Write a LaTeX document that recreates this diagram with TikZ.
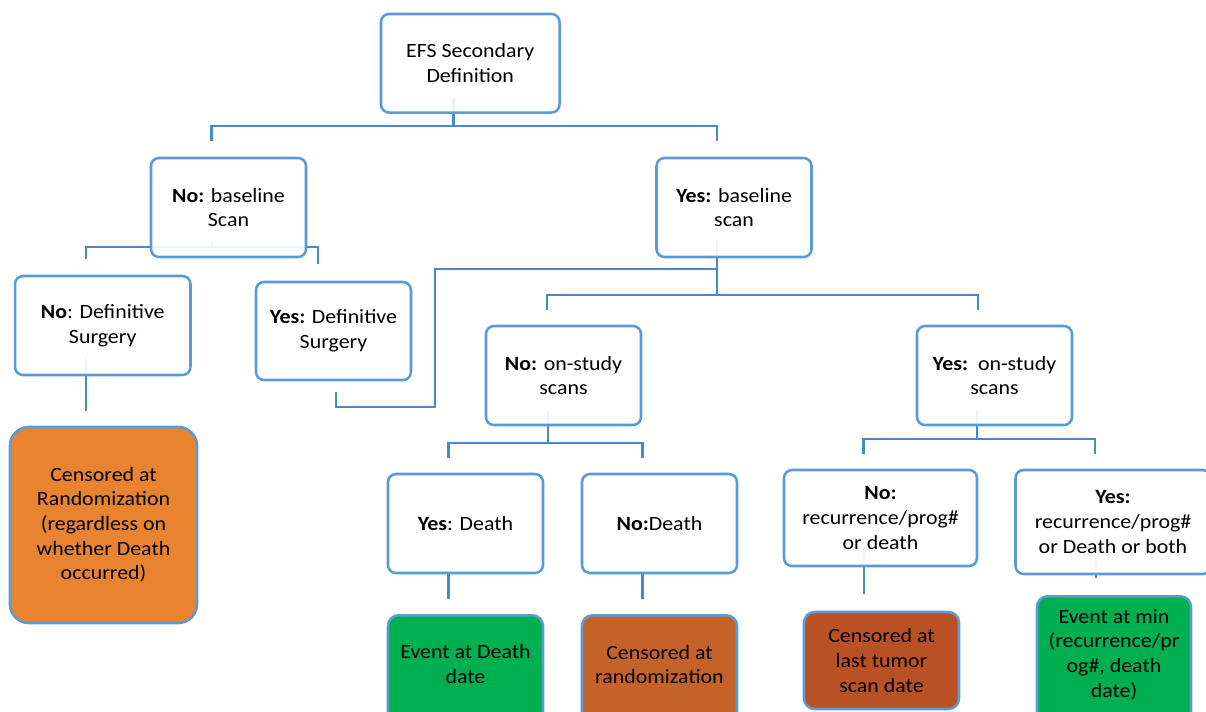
\documentclass[tikz,border=0pt]{standalone}
\usepackage{fontspec}
\setmainfont[FakeStretch=1.08]{Carlito}
\definecolor{bord}{HTML}{5B9BD5}
\definecolor{conn}{HTML}{4A89C8}
\definecolor{orng}{HTML}{E8832F}
\definecolor{brn}{HTML}{C5622A}
\definecolor{dbrn}{HTML}{BA5125}
\definecolor{grn}{HTML}{00AF4F}
\tikzset{
  box/.style={draw=bord, line width=1.9pt, rounded corners=6pt, fill=white, fill opacity=0.9, text opacity=1,
    align=center, inner sep=0pt, font=\fontsize{15.2}{18.5}\selectfont},
  cbox/.style={box, fill opacity=1, rounded corners=8pt},
  txt/.style={align=center, inner sep=0pt, font=\fontsize{15.2}{18.5}\selectfont},
  wn/.style={minimum width=116.25pt, minimum height=74.25pt},
  link/.style={draw=conn, line width=1.7pt},
}
\begin{document}
\begin{tikzpicture}[x=0.75pt,y=-0.75pt]
\useasboundingbox (0,0) rectangle (1206,711);
% coordinates for connectors (drawn first, under boxes)
\coordinate (r1) at (453.5,98);
\coordinate (r2) at (453.5,126);
\coordinate (rl) at (211.5,141);
\coordinate (rr) at (717,141);
\draw[link] (r1) -- (r2);
\draw[link] (rl) |- (r2) -| (rr);
% No baseline bracket
\coordinate (nb1) at (212,243);
\coordinate (nb2) at (212,247);
\coordinate (nbl) at (86,259);
\coordinate (nbr) at (318,264);
\draw[link] (nb1) -- (nb2);
\draw[link] (nbl) |- (nb2) -| (nbr);
% No surgery down
\coordinate (ns1) at (86,358);
\coordinate (ns2) at (86,411);
\draw[link] (ns1) -- (ns2);
% Yes baseline
\coordinate (yb1) at (717,240);
\coordinate (yb2) at (717,295);
\coordinate (yb3) at (717,269);
\coordinate (ybl) at (547,310);
\coordinate (ybr) at (978,310);
\coordinate (ys1) at (336,392);
\coordinate (ys2) at (435,407);
\draw[link] (yb1) -- (yb2);
\draw[link] (ybl) |- (yb2) -| (ybr);
\draw[link] (ys1) |- (ys2) |- (yb3);
% No on-study
\coordinate (no1) at (548,410);
\coordinate (no2) at (548,443);
\coordinate (nol) at (448.5,458);
\coordinate (nor) at (642.5,458);
\draw[link] (no1) -- (no2);
\draw[link] (nol) |- (no2) -| (nor);
% Yes on-study
\coordinate (yo1) at (977,410);
\coordinate (yo2) at (977,439);
\coordinate (yol) at (863.5,454);
\coordinate (yor) at (1095,454);
\draw[link] (yo1) -- (yo2);
\draw[link] (yol) |- (yo2) -| (yor);
% leaves
\coordinate (d1) at (448.5,573);
\coordinate (d2) at (448.5,599);
\coordinate (e1) at (642.5,573);
\coordinate (e2) at (642.5,599);
\coordinate (f1) at (864,550);
\coordinate (f2) at (864,594);
\coordinate (g1) at (1096,558);
\coordinate (g2) at (1096,578);
\draw[link] (d1) -- (d2);
\draw[link] (e1) -- (e2);
\draw[link] (f1) -- (f2);
\draw[link] (g1) -- (g2);

% boxes
\node[box, minimum width=133.9pt, minimum height=73.9pt] (root) at (470.25,63.25) {EFS Secondary\\Definition};
\node[box, wn] (nobase) at (228.5,207.5) {\textbf{No:} baseline\\Scan};
\node[box, wn] (yesbase) at (734,207.5) {\textbf{Yes:} baseline\\scan};
\node[box, minimum width=131.6pt, minimum height=74.25pt] (nosurg) at (102.75,325.5) {\textbf{No}: Definitive\\Surgery};
\node[box, wn, minimum height=73.5pt] (yessurg) at (333.5,331) {\textbf{Yes:} Definitive\\Surgery};
\node[cbox, fill=orng, rounded corners=14pt, minimum width=140.25pt, minimum height=147pt] (cens1) at (103.5,525)
  {Censored at\\Randomization\\(regardless on\\whether Death\\occurred)};
\node[box, wn] (nostudy) at (563.5,375.5) {\textbf{No:} on-study\\scans};
\node[box, wn] (yesstudy) at (994.5,375.5) {\textbf{Yes:}\ \ on-study\\scans};
\node[box, wn] (yesdeath) at (465.5,523.5) {\textbf{Yes}: Death};
\node[box, wn] (nodeath) at (659.5,523.5) {\textbf{No:}Death};
\node[box, minimum width=144.75pt, minimum height=72pt] (norec) at (880.5,518) {\textbf{No:}\\recurrence/prog\#\\or death};
\node[box, minimum width=146.25pt, minimum height=78pt] (yesrec) at (1113,522) {\textbf{Yes:}\\recurrence/prog\#\\or Death or both};
% bottom result boxes (running past the lower edge), with their texts
\node[cbox, fill=grn, minimum width=116.25pt, minimum height=84pt, anchor=north] (evdeathbox) at (465.5,614) {};
\node[txt] (evdeath) at (465.5,664) {Event at Death\\date};
\node[cbox, fill=brn, minimum width=116.25pt, minimum height=84pt, anchor=north] (cens2box) at (659.5,614) {};
\node[txt] (cens2) at (659.5,664.5) {Censored at\\randomization};
\node[cbox, fill=dbrn, wn, minimum height=72.75pt] (cens3) at (881.5,660.5) {Censored at\\last tumor\\scan date};
\node[cbox, fill=grn, minimum width=115.5pt, minimum height=98pt, anchor=north] (evminbox) at (1114,595) {};
\node[txt] (evmin) at (1114,654.5) {Event at min\\(recurrence/pr\\og\#, death\\date)};
\end{tikzpicture}
\end{document}
